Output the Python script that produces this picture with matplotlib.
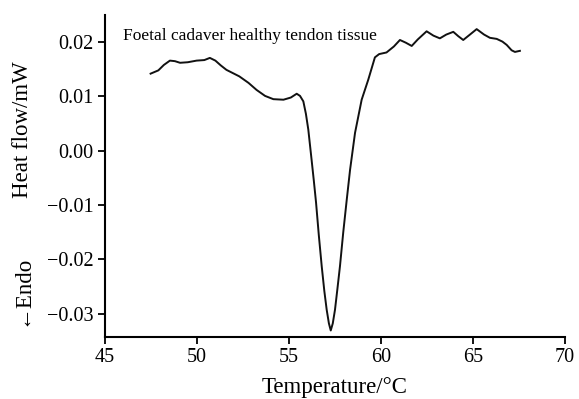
import numpy as np
import matplotlib.pyplot as plt

plt.rcParams['font.family'] = ['Liberation Serif', 'DejaVu Serif']
plt.rcParams['axes.unicode_minus'] = True

# DSC curve
temp = [47.48, 47.9, 48.2, 48.53, 48.8, 49.08, 49.5, 49.98, 50.4, 50.7,
        51.0, 51.3, 51.6, 52.3, 52.8, 53.24, 53.7, 54.15, 54.7, 55.1,
        55.42, 55.6, 55.78, 55.92, 56.05, 56.23, 56.35, 56.47, 56.62, 56.78,
        56.92, 57.05, 57.17, 57.27, 57.38, 57.5, 57.63, 57.77, 57.95, 58.14,
        58.32, 58.59, 58.95, 59.31, 59.67, 59.9, 60.3, 60.7, 61.03, 61.35,
        61.67, 62.0, 62.48, 62.85, 63.2, 63.55, 63.93, 64.2, 64.47, 64.8,
        65.2, 65.6, 65.92, 66.29, 66.6, 66.83, 67.1, 67.28, 67.55]
heat = [0.0142, 0.0148, 0.0158, 0.0166, 0.0165, 0.0162, 0.0163, 0.0166, 0.0167, 0.0171,
        0.0166, 0.0157, 0.0149, 0.0137, 0.0125, 0.0112, 0.0101, 0.0095, 0.0094, 0.0098,
        0.0105, 0.0101, 0.0091, 0.0068, 0.0039, -0.0017, -0.0055, -0.0095, -0.0155, -0.0213,
        -0.0258, -0.0293, -0.0318, -0.0331, -0.0318, -0.0293, -0.0255, -0.0213, -0.0150, -0.0090,
        -0.0035, 0.0033, 0.0094, 0.0131, 0.0172, 0.0178, 0.0181, 0.0192, 0.0204, 0.0199,
        0.0193, 0.0205, 0.0220, 0.0212, 0.0207, 0.0214, 0.0219, 0.0211, 0.0204, 0.0213,
        0.0224, 0.0214, 0.0208, 0.0206, 0.0201, 0.0195, 0.0185, 0.0182, 0.0184]

xticks = [45, 50, 55, 60, 65, 70]
yticks = [-0.03, -0.02, -0.01, 0.00, 0.01, 0.02]

fig = plt.figure(figsize=(5.79, 3.99), dpi=100)
ax = fig.add_axes([0.1813, 0.1554, 0.7945, 0.807])
ax.plot(temp, heat, color='#111111', linewidth=1.4)

ax.set_xlim(45, 70)
ax.set_ylim(-0.0343, 0.025)
ax.set_xticks(xticks)
ax.set_yticks(yticks)
ax.set_yticklabels(['%.2f' % v if v >= 0 else '\u2212%.2f' % -v for v in yticks])
ax.tick_params(direction='out', length=5, width=1.3, labelsize=14.5, pad=3)
for s in ['top', 'right']:
    ax.spines[s].set_visible(False)
for s in ['left', 'bottom']:
    ax.spines[s].set_linewidth(1.5)

ax.set_xlabel('Temperature/\u00b0C', fontsize=16.5, labelpad=7)
fig.text(0.038, 0.675, 'Heat flow/mW', rotation=90, fontsize=16.5, ha='center', va='center')
fig.text(0.038, 0.273, '\u2190Endo', rotation=90, fontsize=16.5, ha='center', va='center',
         family=['Liberation Serif', 'DejaVu Sans'])
ax.text(45.98, 0.0211, 'Foetal cadaver healthy tendon tissue', fontsize=12.5,
        ha='left', va='center')

fig.savefig('out.png', dpi=100)
